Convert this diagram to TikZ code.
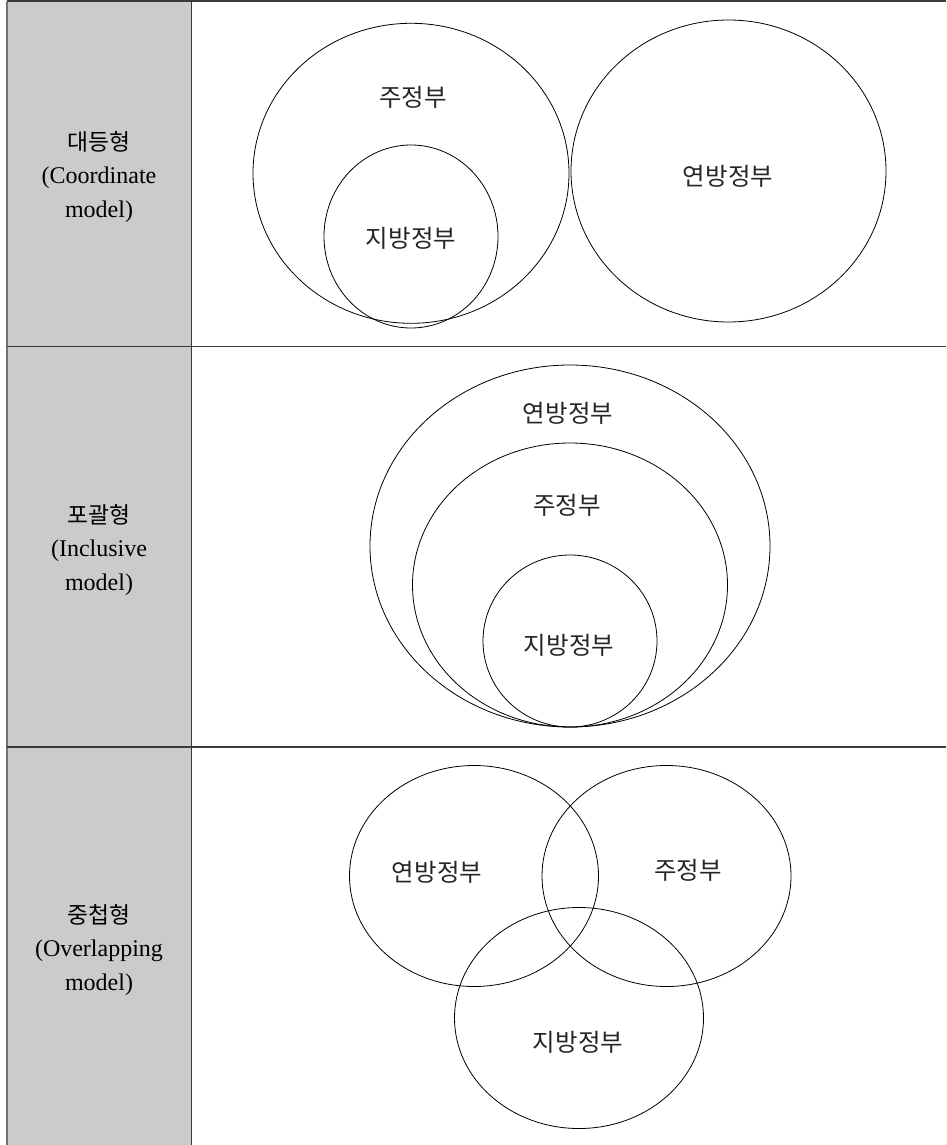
\documentclass[tikz,border=0pt]{standalone}
\usepackage{fontspec}
\setmainfont{Liberation Serif}
\newfontfamily\kr{Noto Sans CJK KR}
\usetikzlibrary{shapes.geometric}
\definecolor{cellgray}{HTML}{CBCBCB}
\definecolor{ruleline}{HTML}{3A3A3A}
\tikzset{
  ring/.style={draw=black, line width=0.8pt, ellipse, inner sep=0pt},
  lbl/.style={inner sep=0pt, text=black!85, font=\kr\fontsize{24.5}{28}\selectfont},
  rowlabel/.style={inner sep=0pt, align=center, font=\fontsize{24}{33.5}\selectfont},
  rule/.style={draw=ruleline, line width=1.3pt},
}
\newcommand{\krl}[1]{{\kr\fontsize{22.8}{33.5}\selectfont #1}}
\begin{document}
\begin{tikzpicture}[x=1pt,y=-1pt]
\useasboundingbox (0,0) rectangle (946,1145);
% left column fill
\fill[cellgray] (7,1) rectangle (191.5,1145);
% table rules
\coordinate (tl) at (7,1);
\coordinate (tr) at (946,1);
\coordinate (bl) at (7,1145);
\coordinate (ct) at (191.5,1);
\coordinate (cb) at (191.5,1145);
\coordinate (s1l) at (7,346.7);
\coordinate (s1r) at (946,346.7);
\coordinate (s2l) at (7,747);
\coordinate (s2r) at (946,747);
\draw[rule] (tl) -- (tr);
\draw[rule, draw=black!55] (tl) -- (bl);
\draw[rule] (ct) -- (cb);
\draw[rule] (s1l) -- (s1r);
\draw[rule] (s2l) -- (s2r);

% row labels
\node[rowlabel] (r1) at (99,177) {\krl{대등형}\\(Coordinate\\model)};
\node[rowlabel] (r2) at (99,550) {\krl{포괄형}\\(Inclusive\\model)};
\node[rowlabel] (r3) at (99,950) {\krl{중첩형}\\(Overlapping\\model)};

% row 1: coordinate model
\node[ring, minimum width=316pt, minimum height=300pt] (a1) at (411,173.3) {};
\node[ring, minimum width=174pt, minimum height=183pt] (a2) at (411,236.5) {};
\node[ring, minimum width=315pt, minimum height=302pt] (a3) at (728.5,171) {};
\node[lbl] (ta1) at (413,97) {주정부};
\node[lbl] (ta2) at (411,238) {지방정부};
\node[lbl] (ta3) at (728,176) {연방정부};

% row 2: inclusive model
\node[ring, minimum width=400pt, minimum height=362pt] (b1) at (570,546) {};
\node[ring, minimum width=315pt, minimum height=284pt] (b2) at (570,585) {};
\node[ring, minimum width=174pt, minimum height=172pt] (b3) at (570,641) {};
\node[lbl] (tb1) at (568,413) {연방정부};
\node[lbl] (tb2) at (567,505) {주정부};
\node[lbl] (tb3) at (569,645) {지방정부};

% row 3: overlapping model
\node[ring, minimum width=249pt, minimum height=221pt] (c1) at (474,876) {};
\node[ring, minimum width=249pt, minimum height=221pt] (c2) at (666.5,876) {};
\node[ring, minimum width=249pt, minimum height=221pt] (c3) at (579,1018) {};
\node[lbl] (tc1) at (437,872) {연방정부};
\node[lbl] (tc2) at (688,870) {주정부};
\node[lbl] (tc3) at (578,1042) {지방정부};
\end{tikzpicture}
\end{document}
